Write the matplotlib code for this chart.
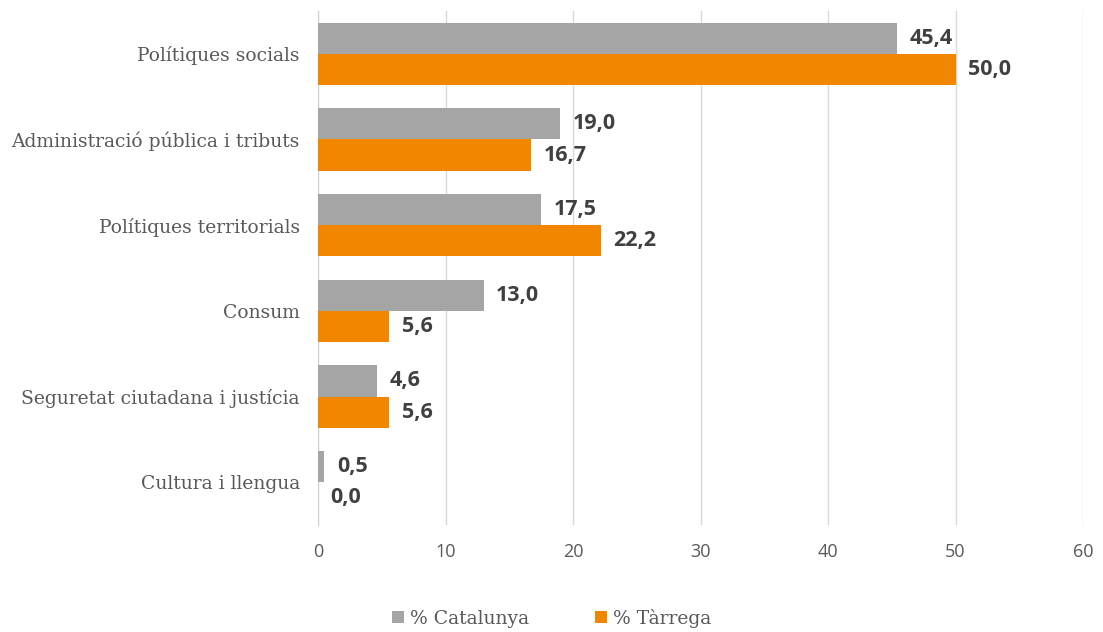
import numpy as np
import matplotlib.pyplot as plt

# ----------  Data  ----------
categories = ['Polítiques socials', 'Administració pública i tributs',
              'Polítiques territorials', 'Consum',
              'Seguretat ciutadana i justícia', 'Cultura i llengua']
catalunya = [45.4, 19.0, 17.5, 13.0, 4.6, 0.5]
tarrega = [50.0, 16.7, 22.2, 5.6, 5.6, 0.0]
series_names = ['% Catalunya', '% Tàrrega']
xticks = [0, 10, 20, 30, 40, 50, 60]

# ----------  Style  ----------
grey = '#A5A5A5'
orange = '#F18700'
label_font = 'DejaVu Serif'
value_font = 'Open Sans'

fig = plt.figure(figsize=(11.03, 6.32), dpi=100)
ax = fig.add_axes([0.2883, 0.1693, 0.6936, 0.8133])

y = np.arange(len(categories))
h = 0.362
b1 = ax.barh(y - h / 2, catalunya, height=h, color=grey, label=series_names[0], zorder=3)
b2 = ax.barh(y + h / 2, tarrega, height=h, color=orange, label=series_names[1], zorder=3)

for bars, vals in ((b1, catalunya), (b2, tarrega)):
    for bar, v in zip(bars, vals):
        ax.annotate(f'{v:.1f}'.replace('.', ','),
                    xy=(v, bar.get_y() + bar.get_height() / 2),
                    xytext=(9, 0), textcoords='offset points',
                    va='center', ha='left', fontsize=15.5, fontweight='bold',
                    family=value_font, color='#404040')

ax.set_ylim(len(categories) - 0.5, -0.5)
ax.set_xlim(0, 60)
ax.set_xticks(xticks)
ax.set_yticks(y)
ax.set_yticklabels(categories, family=label_font, fontsize=13.5, color='#595959')
ax.set_xticklabels([str(t) for t in xticks], family='Open Sans', fontsize=13, color='#595959')
ax.tick_params(axis='both', length=0)
ax.tick_params(axis='y', pad=13)
ax.tick_params(axis='x', pad=13)

ax.grid(axis='x', color='#D9D9D9', linewidth=1, zorder=0)
for s in ['top', 'right', 'bottom']:
    ax.spines[s].set_visible(False)
ax.spines['left'].set_color('#D0D0D0')

leg = fig.legend(handles=[b1, b2], labels=series_names, loc='lower center',
                 bbox_to_anchor=(0.5, -0.02), ncol=2, frameon=False,
                 handlelength=0.65, handleheight=0.65, handletextpad=0.3,
                 columnspacing=3.55, prop={'family': label_font, 'size': 13.5})
for t in leg.get_texts():
    t.set_color('#595959')

plt.savefig('out.png', dpi=100)
